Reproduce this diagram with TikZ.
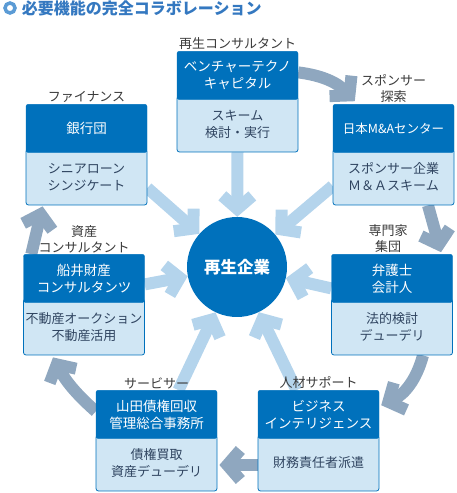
\documentclass[tikz,border=0pt]{standalone}
\usepackage{fontspec}
\setmainfont{Noto Sans CJK JP}
\usetikzlibrary{positioning,arrows.meta,backgrounds}

\definecolor{headblue}{HTML}{0071BC}
\definecolor{bodyblue}{HTML}{D0E6F4}
\definecolor{textnavy}{HTML}{2F4460}
\definecolor{labelgray}{HTML}{3A3A3A}
\definecolor{loopgray}{HTML}{8FA7BF}
\definecolor{feedblue}{HTML}{B4D4EC}
\definecolor{titleblue}{HTML}{3478C0}
\definecolor{markblue}{HTML}{5B9BD5}

\begin{document}
\begin{tikzpicture}[x=1pt, y=1pt,
  headbox/.style={fill=headblue, draw=headblue, rounded corners=2pt,
    minimum width=121pt, minimum height=48pt, inner sep=0pt, align=center,
    text=white, font=\fontsize{13.5}{17}\selectfont},
  bodybox/.style={fill=bodyblue, draw=headblue, line width=0.8pt, rounded corners=2.5pt,
    minimum width=121pt, minimum height=56pt, inner sep=0pt, align=center,
    text=textnavy, font=\fontsize{13}{17}\selectfont},
  tag/.style={inner sep=0pt, align=center, text=labelgray,
    font=\fontsize{13}{16}\selectfont},
  loopline/.style={draw=loopgray, line width=12pt,
    -{Straight Barb[sharp, length=13pt, width=30pt]}},
  feedline/.style={draw=feedblue, line width=12pt,
    -{Straight Barb[sharp, length=13pt, width=30pt]}},
]
\useasboundingbox (0,0) rectangle (456,493);

  % Title
  \node[circle, draw=markblue, fill=white, line width=3.5pt, minimum size=10pt, inner sep=0pt] (mark) at (10,485) {};
  \node[right=5pt of mark, inner sep=0pt, text=titleblue, font=\bfseries\fontsize{16}{16}\selectfont] (title) {必要機能の完全コラボレーション};

  % Centre
  \node[circle, fill=headblue, minimum size=100pt, inner sep=0pt, text=white,
    font=\bfseries\fontsize{16.5}{16.5}\selectfont] (hub) at (237,226) {再生企業};

  % Venture capital box
  \node[bodybox] (vtc) at (237.5,369) {スキーム\\検討・実行};
  \node[headbox, above=-4pt of vtc] (vtc-h) {ベンチャーテクノ\\キャピタル};
  \node[tag, above=1pt of vtc-h] (vtc-t) {再生コンサルタント};

  % M&A centre box
  \node[bodybox] (mna) at (393.5,316) {スポンサー企業\\Ｍ＆Ａスキーム};
  \node[headbox, above=-4pt of mna, font=\fontsize{12.5}{17}\selectfont] (mna-h) {日本M\&Aセンター};
  \node[tag, above=1pt of mna-h] (mna-t) {スポンサー\\探索};

  % Bank box
  \node[bodybox] (bank) at (86.5,316) {シニアローン\\シンジケート};
  \node[headbox, above=-4pt of bank] (bank-h) {銀行団};
  \node[tag, above=1pt of bank-h] (bank-t) {ファイナンス};

  % Asset consultant box
  \node[bodybox] (funai) at (84,166) {不動産オークション\\不動産活用};
  \node[headbox, above=-4pt of funai] (funai-h) {船井財産\\コンサルタンツ};
  \node[tag, above=1pt of funai-h] (funai-t) {資産\\コンサルタント};

  % Lawyer box
  \node[bodybox] (lawyer) at (392,166) {法的検討\\デューデリ};
  \node[headbox, above=-4pt of lawyer] (lawyer-h) {弁護士\\会計人};
  \node[tag, above=1pt of lawyer-h, xshift=-4pt] (lawyer-t) {専門家\\集団};

  % Servicer box
  \node[bodybox] (yamada) at (156.5,30) {債権買取\\資産デューデリ};
  \node[headbox, above=-4pt of yamada] (yamada-h) {山田債権回収\\管理総合事務所};
  \node[tag, above=1pt of yamada-h] (yamada-t) {サービサー};

  % Business intelligence box
  \node[bodybox] (bizint) at (318.5,30) {財務責任者派遣};
  \node[headbox, above=-4pt of bizint] (bizint-h) {ビジネス\\インテリジェンス};
  \node[tag, above=1pt of bizint-h] (bizint-t) {人材サポート};

  \begin{pgfonlayer}{background}
  % Arrows into the centre
  \draw[feedline] (vtc.south) -- (hub);
  \draw[feedline] ([yshift=-11pt]bank.east) -- (hub);
  \draw[feedline] ([yshift=-9pt]mna.west) -- (hub);
  \draw[feedline] ([yshift=-6pt]funai-h.east) -- (hub);
  \draw[feedline] ([yshift=-10pt]lawyer-h.west) -- (hub);
  \draw[feedline] ([xshift=22pt]yamada-h.north) -- (hub);
  \draw[feedline] ([xshift=-22pt]bizint-h.north) -- (hub);

  % Arrows round the ring
  \draw[loopline] ([yshift=3pt]vtc-h.east) to[bend left=20] ([xshift=22pt,yshift=3pt]mna-h.north west);
  \draw[loopline] ([xshift=34.5pt]mna.south) -- ([xshift=49pt,yshift=2pt]lawyer-h.north);
  \draw[loopline] ([xshift=31pt]lawyer.south) to[bend left=25] ([xshift=2pt,yshift=-15pt]bizint-h.north east);
  \draw[loopline] ([yshift=-2pt]bizint.west) -- ([xshift=2pt,yshift=-2pt]yamada.east);
  \draw[loopline] ([yshift=3pt]yamada-h.west) to[bend left=10] ([xshift=-31pt,yshift=-2pt]funai.south);
  \draw[loopline] ([xshift=8pt]funai-h.north west) -- ([xshift=17pt,yshift=-1pt]bank.south west);
  \end{pgfonlayer}

\end{tikzpicture}
\end{document}
